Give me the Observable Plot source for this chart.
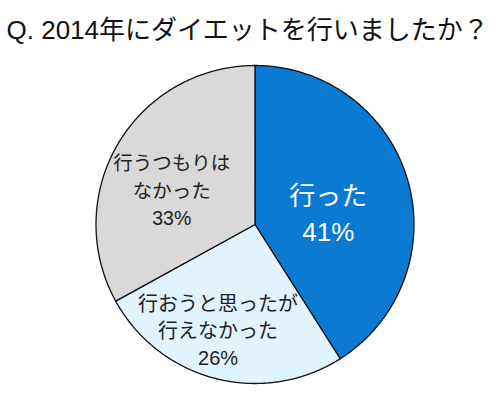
<!DOCTYPE html>
<html>
<head>
<meta charset="utf-8">
<script src="https://cdn.jsdelivr.net/npm/d3@7"></script>
<script src="https://cdn.jsdelivr.net/npm/@observablehq/plot@0.6"></script>
<style>
  body { margin: 0; background: #fff; }
  #chart svg { display: block; }
</style>
</head>
<body>
<div id="chart"></div>
<script>
const title = "Q. 2014年にダイエットを行いましたか？";
const labels = ["行った", "行おうと思ったが\n行えなかった", "行うつもりは\nなかった"];
const values = [41, 26, 33];
const colors = ["#0b7ad2", "#e1f3fc", "#d9d9d9"];
const textColors = ["#ffffff", "#222222", "#222222"];

// slices, clockwise from 12 o'clock, in unit-circle coordinates
const total = d3.sum(values);
let acc = 0;
const slices = values.map((v, i) => {
  const a0 = acc / total * 2 * Math.PI;
  acc += v;
  const a1 = acc / total * 2 * Math.PI;
  const n = Math.max(2, Math.ceil((a1 - a0) / 0.01));
  const ring = [[0, 0]];
  for (let k = 0; k <= n; k++) {
    const a = a0 + (a1 - a0) * k / n;
    ring.push([Math.sin(a), Math.cos(a)]);
  }
  ring.push([0, 0]);
  return {
    type: "Feature",
    properties: {label: labels[i], value: v, fill: colors[i], color: textColors[i], mid: (a0 + a1) / 2},
    geometry: {type: "Polygon", coordinates: [ring]}
  };
});

const circle = {type: "Polygon", coordinates: [d3.range(0, 361).map(d => {
  const a = d * Math.PI / 180;
  return [Math.sin(a), Math.cos(a)];
})]};

// label placement: radius factor along slice middle, plus pixel nudges
const labelR = [0.48, 0.68, 0.55];
const labelDx = [0, -10, -8];
const labelDy = [8, 0, 9];
const labelSize = [26, 20, 19.5];
const labelLH = [1.42, 1.35, 1.4];

const labelMarks = slices.map((s, i) => Plot.text([s.properties], {
  x: d => Math.sin(d.mid) * labelR[i],
  y: d => Math.cos(d.mid) * labelR[i],
  text: d => d.label + "\n" + d.value + "%",
  fill: d => d.color,
  fontSize: labelSize[i],
  lineHeight: labelLH[i],
  dx: labelDx[i],
  dy: labelDy[i]
}));

const chart = Plot.plot({
  width: 500,
  height: 410,
  margin: 0,
  style: {fontFamily: "'Liberation Sans', Arial, 'Noto Sans CJK JP', sans-serif", background: "#fff"},
  projection: {
    type: "reflect-y",
    domain: circle,
    insetTop: 65,
    insetBottom: 27,
    insetLeft: 95.5,
    insetRight: 86.5
  },
  marks: [
    Plot.geo(slices, {fill: d => d.properties.fill, stroke: "#111", strokeWidth: 1.3}),
    ...labelMarks,
    Plot.text([title], {
      frameAnchor: "top-left",
      textAnchor: "start",
      lineAnchor: "middle",
      dx: 6,
      dy: 30,
      fontSize: 26,
      fill: "#111"
    })
  ]
});

d3.select('#chart').append(() => chart);
</script>
</body>
</html>
